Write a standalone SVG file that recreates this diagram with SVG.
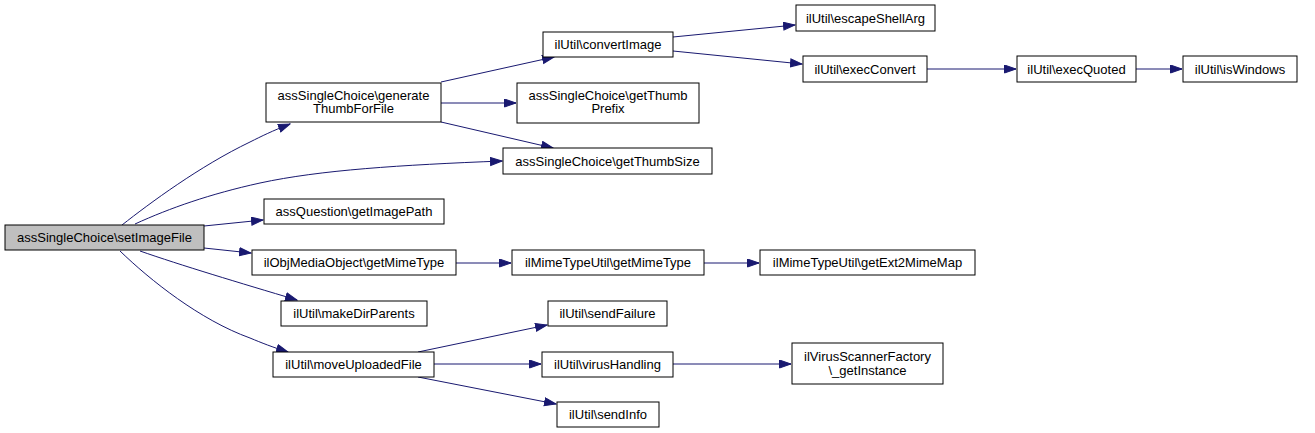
<svg xmlns="http://www.w3.org/2000/svg" width="1315" height="433" viewBox="0 0 1315 433">
<style>
.n rect{fill:#ffffff;stroke:#000000;stroke-width:1}
.n text{font-family:"Liberation Sans",Arial,sans-serif;font-size:13px;fill:#000000;text-anchor:middle}
#edges path{fill:none;stroke:#191970;stroke-width:1;marker-end:url(#ah)}
</style>
<defs>
<marker id="ah" markerUnits="userSpaceOnUse" markerWidth="13" markerHeight="10" refX="12" refY="4.5" orient="auto">
<path d="M0.5,0.5 L12,4.5 L0.5,8.5 z" fill="#191970" stroke="#191970" stroke-width="1"/>
</marker>
</defs>
<rect width="1315" height="433" fill="#ffffff"/>
<g id="edges">
<path d="M122,225 C150,203 200,166 250,142 C262,136 272,131 290,124"/>
<path d="M135,224 C170,208 210,194 260,183 C320,170 400,165 502,161"/>
<path d="M204,226 L263,220"/>
<path d="M204,248 L251,253"/>
<path d="M140,251 C180,265 240,283 297,300"/>
<path d="M120,251 C150,280 200,320 250,338 C262,343 272,347 288,352"/>
<path d="M441,82 L554,57"/>
<path d="M441,103 L516,103"/>
<path d="M441,122 L553,148"/>
<path d="M673,37 L795,25"/>
<path d="M673,51 L802,64"/>
<path d="M927,69 L1016,69"/>
<path d="M1136,69 L1182,69"/>
<path d="M456,263 L511,263"/>
<path d="M704,263 L759,263"/>
<path d="M418,352 L547,325"/>
<path d="M434,364 L541,364"/>
<path d="M418,377 L556,404"/>
<path d="M673,364 L791,364"/>
</g>
<g id="n0" class="n"><rect x="5" y="225" width="199" height="25" style="fill:#bfbfbf"/><text x="104.5" y="242">assSingleChoice\setImageFile</text></g>
<g id="n1" class="n"><rect x="266" y="83" width="175" height="39"/><text x="353.5" y="99.5">assSingleChoice\generate</text><text x="353.5" y="113">ThumbForFile</text></g>
<g id="n2" class="n"><rect x="264" y="199" width="180" height="25"/><text x="354" y="216">assQuestion\getImagePath</text></g>
<g id="n3" class="n"><rect x="252" y="250" width="204" height="25"/><text x="354" y="267">ilObjMediaObject\getMimeType</text></g>
<g id="n4" class="n"><rect x="281" y="301" width="146" height="25"/><text x="354" y="318">ilUtil\makeDirParents</text></g>
<g id="n5" class="n"><rect x="273" y="352" width="161" height="25"/><text x="353.5" y="369">ilUtil\moveUploadedFile</text></g>
<g id="n6" class="n"><rect x="543" y="32" width="130" height="25"/><text x="608" y="49">ilUtil\convertImage</text></g>
<g id="n7" class="n"><rect x="517" y="83" width="182" height="40"/><text x="608" y="99.5">assSingleChoice\getThumb</text><text x="608" y="113">Prefix</text></g>
<g id="n8" class="n"><rect x="503" y="148" width="209" height="26"/><text x="607.5" y="165.5">assSingleChoice\getThumbSize</text></g>
<g id="n9" class="n"><rect x="796" y="5" width="139" height="26"/><text x="865.5" y="22.5">ilUtil\escapeShellArg</text></g>
<g id="n10" class="n"><rect x="803" y="56" width="124" height="26"/><text x="865" y="74">ilUtil\execConvert</text></g>
<g id="n11" class="n"><rect x="1017" y="56" width="119" height="26"/><text x="1076.5" y="74">ilUtil\execQuoted</text></g>
<g id="n12" class="n"><rect x="1183" y="56" width="114" height="26"/><text x="1240" y="74">ilUtil\isWindows</text></g>
<g id="n13" class="n"><rect x="512" y="250" width="192" height="25"/><text x="608" y="267">ilMimeTypeUtil\getMimeType</text></g>
<g id="n14" class="n"><rect x="760" y="250" width="215" height="25"/><text x="867.5" y="267">ilMimeTypeUtil\getExt2MimeMap</text></g>
<g id="n15" class="n"><rect x="548" y="301" width="119" height="25"/><text x="607.5" y="318">ilUtil\sendFailure</text></g>
<g id="n16" class="n"><rect x="542" y="352" width="131" height="25"/><text x="607.5" y="369">ilUtil\virusHandling</text></g>
<g id="n17" class="n"><rect x="557" y="402" width="102" height="25"/><text x="608" y="419">ilUtil\sendInfo</text></g>
<g id="n18" class="n"><rect x="792" y="343" width="151" height="41"/><text x="867.5" y="361">ilVirusScannerFactory</text><text x="867.5" y="374.5">\_getInstance</text></g>
</svg>
